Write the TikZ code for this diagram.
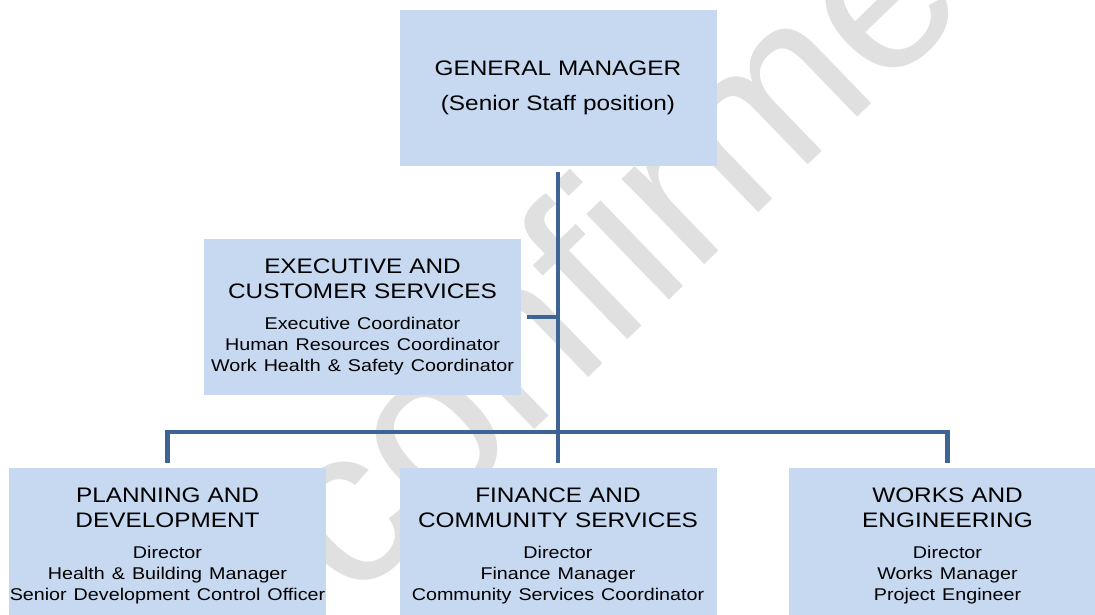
\documentclass[tikz,border=0pt]{standalone}
\usepackage{fontspec}
\setmainfont{Liberation Sans}[FakeStretch=1.16]
\newfontfamily\markfont{Liberation Sans}
\usetikzlibrary{positioning,calc}
\setlength{\parindent}{0pt}
\hyphenpenalty=10000

\definecolor{boxblue}{RGB}{198,217,240}
\definecolor{linkblue}{RGB}{62,100,150}
\definecolor{markgray}{RGB}{224,224,224}

\newcommand{\headfont}{\fontsize{21}{25}\selectfont}
\newcommand{\rolefont}{\fontsize{17}{21}\selectfont}
\newcommand{\unittext}[2]{{\headfont #1\par}\vskip10pt{\rolefont #2\par}}

\tikzset{
  unit/.style={fill=boxblue, minimum width=317pt, minimum height=156pt, text width=317pt,
    inner sep=0pt, outer sep=5.5pt, align=center, font=\headfont},
  link/.style={draw=linkblue, line width=4.5pt}
}

\begin{document}
\begin{tikzpicture}[x=1pt,y=-1pt]
  \useasboundingbox (0,0) rectangle (1095,615);
  \clip (0,0) rectangle (1095,615);

  \node[markgray, font=\markfont\fontsize{225}{225}\selectfont, rotate=44, anchor=base west, inner sep=0pt] (mark) at (352,606) {confirmed};

  \node[unit, font=\fontsize{21}{34.5}\selectfont] (gm) at (558,88) {GENERAL MANAGER\\(Senior Staff position)};
  \node[unit] (exec) at (362.5,317) {\unittext{EXECUTIVE AND\\CUSTOMER SERVICES}{Executive Coordinator\\Human Resources Coordinator\\Work Health \& Safety Coordinator}};
  \foreach \id/\x/\head/\roles in {
      plan/167.5/{PLANNING AND\\DEVELOPMENT}/{Director\\Health \& Building Manager\\Senior Development Control Officer},
      fin/558/{FINANCE AND\\COMMUNITY SERVICES}/{Director\\Finance Manager\\Community Services Coordinator},
      works/947.5/{WORKS AND\\ENGINEERING}/{Director\\Works Manager\\Project Engineer}} {
    \node[unit] (\id) at (\x,546) {\unittext{\head}{\roles}};
  }

  \coordinate (bus) at (558,432);
  \draw[link] (gm.south) -- (fin.north);
  \draw[link] (exec.east) -- (exec.east -| gm.south);
  \draw[link] (plan.north) |- (bus) -| (works.north);
\end{tikzpicture}
\end{document}
